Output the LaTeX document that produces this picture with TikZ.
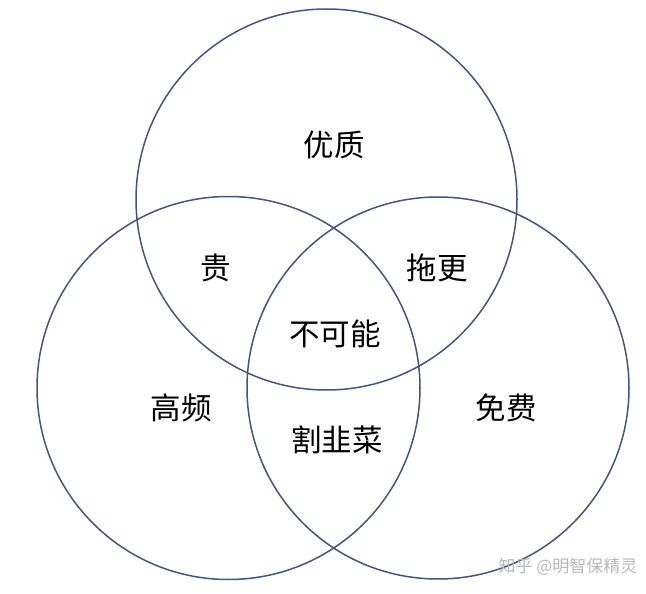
\documentclass[tikz,border=0pt]{standalone}
\usepackage{fontspec}
\newfontfamily\cjk{Noto Sans CJK SC}
\definecolor{ring}{HTML}{44557D}
\definecolor{mark}{HTML}{B8B8B8}
\begin{document}
\begin{tikzpicture}[x=1pt,y=-1pt,
  ring/.style={draw=ring,line width=1.5pt},
  lbl/.style={font=\cjk\fontsize{30.5}{30.5}\selectfont,text=black,inner sep=0pt},
  wm/.style={font=\cjk\fontsize{17}{17}\selectfont,text=mark,inner sep=0pt}]
\useasboundingbox (0,0) rectangle (646,594);
\draw[ring] (326.5,199.5) circle (190.5);
\draw[ring] (228.5,388) circle (191.5);
\draw[ring] (438,388) circle (191);
\node[lbl] (q) at (334,145) {优质};
\node[lbl] (g) at (216,268) {贵};
\node[lbl] (t) at (437,268) {拖更};
\node[lbl] (b) at (335,334) {不可能};
\node[lbl] (h) at (181,408) {高频};
\node[lbl] (m) at (506,408) {免费};
\node[lbl] (j) at (337,440) {割韭菜};
\node[wm] (w) at (568,567) {知乎 @明智保精灵};
\end{tikzpicture}
\end{document}
